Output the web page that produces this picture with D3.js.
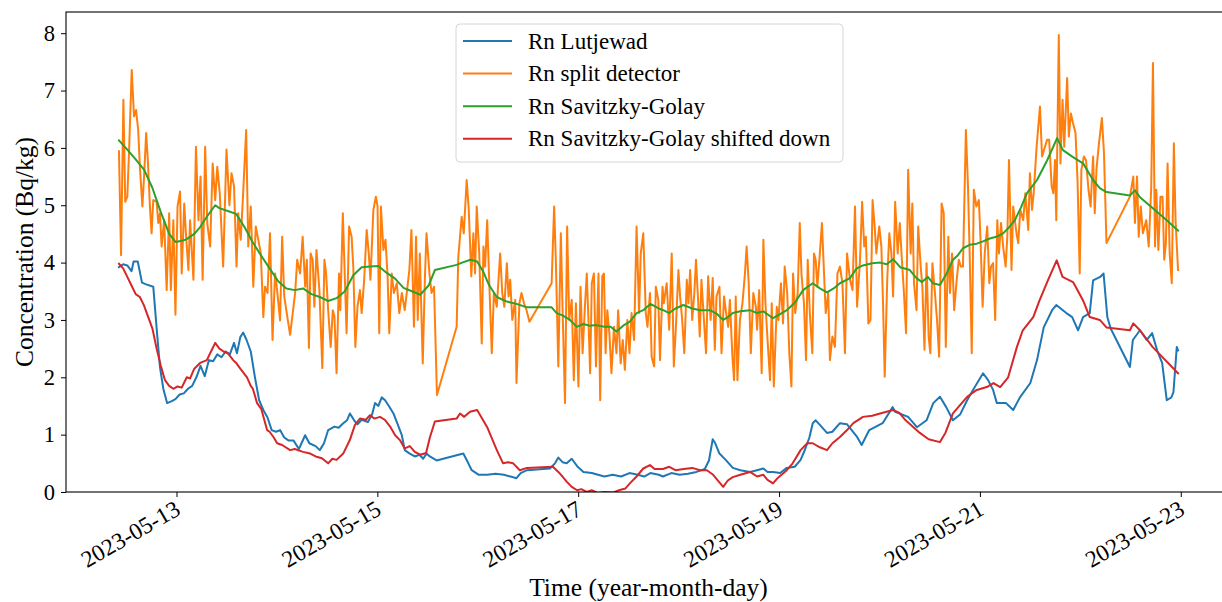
<!DOCTYPE html>
<html><head><meta charset="utf-8">
<script src="https://cdn.jsdelivr.net/npm/d3@7"></script>
<style>
html,body{margin:0;padding:0;background:#fff;}
svg{display:block;}
text{font-family:"Liberation Serif","Times New Roman",serif;fill:#000;}
</style></head><body>
<svg id="chart" width="1222" height="602"></svg>
<script>
// time origin: first sample, 2023-05-12 10:15 (UTC); data given as [hours since origin, value]
const startTime = Date.UTC(2023, 4, 12, 10, 15);

const seriesNames = ["Rn Lutjewad", "Rn split detector", "Rn Savitzky-Golay", "Rn Savitzky-Golay shifted down"];
const seriesColors = ["#1f77b4", "#ff7f0e", "#2ca02c", "#d62728"];
const xTickLabels = ["2023-05-13", "2023-05-15", "2023-05-17", "2023-05-19", "2023-05-21", "2023-05-23"];
const yTickValues = [0, 1, 2, 3, 4, 5, 6, 7, 8];

const lutjewad = [[0,3.92],[1,3.97],[2,3.95],[3,3.85],[3.5,4.02],[4.5,4.02],[5.5,3.65],[6.5,3.62],[8.2,3.58],[9.1,2.77],[9.8,2.18],[10.6,1.8],[11.5,1.55],[12.5,1.58],[13.5,1.62],[14.5,1.7],[15.5,1.72],[16.5,1.8],[17.5,1.85],[18.5,2.0],[19.5,2.2],[20.5,2.02],[21.5,2.3],[22.5,2.28],[23.5,2.4],[24.5,2.35],[25.5,2.45],[26.5,2.4],[27.5,2.6],[28.2,2.42],[29,2.7],[29.7,2.78],[30.5,2.65],[31.5,2.45],[32.5,2.0],[33.5,1.6],[34.5,1.43],[35.5,1.3],[36.5,1.08],[37.5,1.05],[38.5,1.08],[39.5,0.95],[40.5,0.9],[41.7,0.9],[43,0.75],[44.5,0.99],[45.5,0.85],[47,0.8],[48,0.73],[49,0.85],[50,1.08],[51.5,1.14],[52.5,1.12],[53.6,1.2],[54.5,1.25],[55.2,1.37],[56.2,1.25],[57,1.18],[58,1.26],[59.5,1.22],[60.5,1.35],[61.2,1.55],[62,1.5],[62.8,1.65],[63.6,1.6],[64.5,1.5],[65.6,1.37],[66.5,1.2],[67.6,0.99],[68.3,0.73],[69.5,0.67],[70.7,0.62],[71.8,0.65],[72.7,0.58],[73.5,0.67],[74.3,0.62],[75.9,0.55],[82.3,0.67],[83.5,0.5],[84.3,0.38],[86,0.3],[88,0.3],[90,0.32],[92,0.3],[94,0.26],[95,0.24],[96,0.33],[97.5,0.38],[103,0.41],[104.2,0.5],[105,0.6],[106,0.52],[107,0.5],[108.2,0.58],[109.5,0.45],[111,0.35],[113,0.33],[114.5,0.3],[116,0.27],[118,0.3],[120,0.27],[122,0.33],[124,0.3],[125.5,0.27],[127,0.33],[129,0.3],[130,0.27],[132,0.33],[134,0.3],[136,0.32],[138,0.35],[140,0.4],[141,0.55],[141.9,0.92],[142.5,0.85],[143.5,0.67],[145,0.56],[146.7,0.42],[148.5,0.38],[150.8,0.35],[152,0.37],[154,0.41],[155,0.35],[156.3,0.35],[158,0.33],[159.6,0.42],[161.5,0.44],[162.9,0.56],[164,0.75],[165,0.95],[165.8,1.2],[166.5,1.25],[167.5,1.17],[169.2,1.03],[170.5,1.05],[172.3,1.2],[174,1.18],[176.4,0.96],[177.5,0.82],[179.3,1.08],[182.5,1.2],[184.9,1.48],[185.5,1.4],[188.6,1.31],[190.7,1.13],[193,1.25],[194.6,1.55],[196.2,1.66],[197.7,1.48],[199.3,1.25],[201,1.35],[202.7,1.6],[204.1,1.78],[206.5,2.07],[207.7,1.95],[208.9,1.78],[209.8,1.55],[212,1.55],[213.7,1.43],[215.4,1.66],[217.8,1.9],[219.4,2.3],[221,2.87],[223,3.17],[224,3.26],[226.4,3.12],[227.8,3.05],[229.2,2.82],[230.4,3.05],[232,3.12],[232.8,3.69],[234.5,3.75],[235.3,3.81],[236.2,3.05],[237,2.85],[241.6,2.18],[242.3,2.65],[244,2.82],[245.6,2.65],[246.9,2.77],[248.1,2.47],[249.3,2.25],[250.4,1.6],[251.5,1.65],[252,1.74],[252.8,2.53],[253.1,2.47]];

const splitDetector = [[0,5.94],[0.5,4.13],[1.06,6.84],[1.5,5.06],[2,5.15],[2.4,5.91],[3.05,7.36],[3.6,6.55],[4.1,6.66],[4.6,6.31],[5,5.67],[5.6,4.98],[6,5.5],[6.5,6.26],[6.9,5.79],[7.4,4.98],[7.8,4.51],[8.2,5.09],[9,5.06],[9.4,4.69],[9.8,4.86],[10.2,4.28],[10.8,4.74],[11.4,3.52],[12,4.86],[12.4,3.52],[13,4.74],[13.5,3.09],[14,4.98],[14.6,5.24],[15,3.81],[15.6,5.03],[16,4.51],[16.6,3.87],[17,4.74],[17.8,3.7],[18.4,6.02],[19,4.74],[19.5,5.5],[20,3.7],[20.6,6.02],[21.1,4.69],[21.8,4.28],[22.4,5.73],[23,5.09],[23.5,5.67],[24.1,5.2],[24.9,3.93],[25.7,5.97],[26.4,5.0],[26.9,5.56],[27.5,5.33],[28.1,3.93],[28.5,4.86],[29.1,4.4],[29.6,5.09],[30.4,6.31],[30.9,4.28],[31.5,4.98],[32.1,3.58],[32.7,4.63],[33.3,4.4],[33.9,4.16],[34.5,3.05],[34.9,3.58],[35.5,3.47],[36.1,4.51],[36.7,2.65],[37.3,3.81],[37.8,3.52],[38.5,2.99],[39,4.45],[39.5,3.41],[40.1,3.12],[40.9,2.74],[41.5,3.1],[42.1,3.47],
[42.6,4.05],[43.3,3.81],[43.9,4.45],[44.5,3.58],[44.9,4.05],[45.4,2.51],[45.8,4.16],[46.3,4.05],[46.7,3.23],[47.2,4.22],[47.9,3.52],[48.6,2.16],[49.1,4.05],[49.5,3.81],[50.0,3.17],[50.6,2.53],[51.1,3.17],[51.5,3.06],[52.0,2.07],[52.6,3.81],[52.9,3.17],[53.5,4.86],[54.0,3.7],[54.4,2.77],[55.0,4.63],[55.6,4.45],[56.0,3.93],[56.5,2.53],[57.0,3.23],[57.6,3.52],[58.0,3.12],[58.6,3.7],[59.2,4.57],[59.7,4.16],[60.1,3.7],[60.8,4.92],[61.4,5.15],[61.8,4.98],[62.2,2.77],[62.6,4.98],[63.2,4.22],[63.7,4.4],[64.2,3.76],[64.6,2.77],[65.2,3.81],[65.7,3.47],[66.4,3.64],[67.0,3.12],[67.6,3.47],[68.3,3.17],[69.4,3.87],[69.9,4.57],[70.5,2.88],[71.0,4.45],[71.4,3.0],[71.9,4.16],[72.6,2.24],[73.1,3.7],[73.5,4.51],[74.2,3.81],[74.7,3.47],[75.3,3.58],[76.0,1.69],[80.7,2.88],[81.1,4.1],[81.9,4.8],[82.4,4.51],[83.1,5.44],[83.6,4.92],[84.2,3.76],
[84.7,4.51],[85.1,3.81],[85.5,4.98],[86.1,4.16],[86.7,2.59],[87.1,4.28],[87.5,3.93],[88.0,4.74],[88.5,3.64],[89.1,2.42],[89.6,3.47],[90.3,3.23],[91.1,4.16],[91.6,3.47],[92.1,3.23],[92.7,3.99],[93.1,3.41],[93.5,3.7],[94.0,3.0],[94.7,3.35],[95.0,1.9],[95.7,3.29],[96.2,3.47],[96.8,3.29],[97.4,3.17],[98.1,2.97],[103.4,3.64],[104.0,4.98],[104.4,4.05],[105.0,2.19],[105.6,4.51],[106.0,3.23],[106.6,1.55],[107.1,4.63],[107.6,3.0],[108.2,3.35],[108.7,1.95],[109.2,3.29],[109.8,1.84],[110.3,3.58],[110.8,2.42],[111.4,3.29],[111.8,3.81],[112.2,3.0],[112.6,2.07],[113.0,3.64],[113.5,3.81],[114.0,2.19],[114.6,3.81],[115.0,1.6],[115.5,3.76],[115.9,3.81],[116.3,2.42],[116.7,3.17],[117.2,2.77],[117.7,2.07],[118.3,2.88],[118.9,2.42],[119.3,3.17],[119.9,2.24],[120.4,2.65],[120.9,2.13],[121.5,3.0],[122.0,2.42],[122.5,3.12],[123.1,2.65],[123.7,4.63],[124.3,3.12],[124.7,4.16],[125.3,4.51],[125.9,3.12],[126.3,2.88],[126.9,3.47],[127.3,2.36],
[127.9,2.19],[128.3,3.58],[128.9,3.35],[129.3,2.3],[129.9,3.58],[130.2,3.29],[130.9,3.64],[131.5,2.83],[132.1,4.16],[132.6,2.19],[133.1,2.88],[133.7,3.87],[134.1,3.41],[134.6,3.0],[135.1,2.42],[135.7,3.7],[136.1,3.29],[136.5,3.87],[137.0,3.0],[137.5,3.47],[137.9,4.05],[138.4,3.35],[138.8,2.71],[139.2,3.7],[139.6,3.23],[140.3,2.42],[140.8,3.76],[141.4,3.0],[141.9,3.73],[142.4,2.48],[142.8,3.41],[143.5,3.58],[144.0,2.42],[144.6,3.41],[145.1,3.12],[145.6,2.88],[146.0,3.35],[146.6,2.36],[147.0,1.95],[147.4,3.41],[147.8,1.95],[148.4,3.0],[149.0,3.29],[149.6,3.81],[150.0,4.28],[150.5,3.64],[151.0,2.42],[151.6,3.47],[152.2,3.23],[152.5,2.83],[153.0,3.52],[153.6,2.07],[154.0,4.4],[154.5,3.29],[155.0,2.65],[155.6,1.95],[156.0,3.29],[156.5,1.84],[157.2,3.23],[157.6,3.0],[158.2,3.64],[158.7,2.94],[159.1,3.93],[159.7,3.47],[160.2,2.42],[160.7,1.84],[161.1,3.81],[161.6,3.12],[162.2,3.47],[162.7,4.69],[163.1,3.81],[163.7,3.29],[164.2,2.3],[164.6,4.05],[165.1,3.12],[165.7,2.42],[166.1,4.16],[166.5,4.05],[166.9,3.58],[167.5,4.16],[168.0,4.69],[168.5,3.81],[168.9,3.12],[169.5,3.47],[169.9,2.3],[170.5,2.71],[171.1,2.53],
[171.7,3.81],[172.3,3.93],[172.9,3.64],[173.5,2.42],[174.0,4.16],[174.7,3.7],[175.3,3.52],[175.9,4.98],[176.4,3.23],[177.1,4.05],[177.6,5.06],[178.1,4.28],[178.5,4.45],[179.1,2.94],[179.6,3.0],[180.1,5.09],[180.6,4.63],[181.0,4.16],[181.7,4.63],[182.2,4.28],[182.6,3.29],[183.0,2.01],[183.6,3.7],[184.1,4.51],[184.6,4.16],[185.0,3.41],[185.5,5.06],[186.1,4.16],[186.6,4.69],[187.1,4.05],[187.6,3.47],[188.1,2.77],[188.6,5.62],[189.2,4.16],[189.6,5.03],[190.0,3.64],[190.6,3.17],[191.0,4.63],[191.6,3.93],[192.0,3.58],[192.5,2.48],[193.0,3.99],[193.5,2.71],[193.9,2.42],[194.4,3.99],[195.0,3.47],[195.5,3.0],[196.0,2.36],[196.6,5.03],[197.1,4.86],[197.6,2.53],[198.2,4.45],[198.6,3.47],[199.1,4.16],[199.6,3.17],[200.2,3.7],[200.7,4.05],[201.2,3.93],[201.7,3.93],[202.4,6.31],[202.9,5.33],[203.3,4.16],[203.8,2.42],[204.3,5.27],[204.9,4.98],[205.5,5.09],[205.9,4.4],[206.4,3.23],[206.9,4.16],[207.5,4.63],[208.0,3.64],[208.4,3.93],[208.9,3.99],[209.4,3.0],[209.9,4.74],[210.3,4.16],[210.8,4.69],[211.3,4.28],[211.9,3.93],[212.3,4.45],[212.7,5.79],
[213.3,3.87],[213.7,4.98],[214.1,4.74],[214.5,4.51],[214.9,4.34],[215.4,4.92],[216.1,4.74],[216.6,5.21],[217.3,4.57],[217.7,5.56],[218.2,4.92],[218.6,5.21],[219.3,6.02],[220.1,6.72],[220.6,5.85],[221.3,6.02],[221.8,6.14],[222.3,6.14],[222.9,5.33],[223.3,5.21],[223.7,5.79],[224.0,4.74],[224.6,7.97],[225.0,5.73],[225.5,6.84],[225.9,6.02],[226.6,7.22],[227.0,6.2],[227.5,6.6],[228.0,6.43],[228.6,6.26],[229.1,5.38],[229.6,3.81],[230.0,5.62],[230.6,5.85],[231.1,5.79],[231.7,5.27],[232.2,4.98],[232.8,5.85],[233.2,4.86],[233.6,5.62],[234.2,6.08],[234.9,6.52],[235.4,5.91],[236.0,4.34],[241.6,5.15],[242.4,5.5],[242.8,4.69],[243.3,5.5],[243.7,4.45],[244.2,4.98],[244.7,4.51],[245.5,4.74],[246.1,4.28],[246.7,5.33],[247.1,7.48],[247.6,4.28],[247.9,5.27],[248.4,4.22],[248.9,5.15],[249.4,5.15],[249.8,4.05],[250.2,4.34],[250.6,5.73],[251.1,4.16],[251.6,3.64],[252.1,6.08],[252.5,4.74],[253.1,3.87]];

const savitzkyGolay = [[0,6.13],[2,5.97],[4,5.8],[6,5.62],[8,5.3],[9,5.09],[10,4.88],[12,4.5],[13.5,4.36],[15,4.38],[16,4.4],[18,4.5],[19.4,4.62],[21,4.8],[23,5.0],[24,4.95],[26,4.9],[28,4.85],[30,4.62],[32,4.35],[34,4.12],[36,3.9],[38,3.68],[40,3.55],[42,3.52],[44,3.55],[46,3.45],[48,3.4],[50,3.33],[52,3.38],[54,3.5],[56,3.78],[58,3.92],[60,3.93],[62,3.94],[64,3.82],[66,3.72],[68,3.56],[70,3.5],[72,3.44],[74,3.6],[75.5,3.87],[80.7,3.96],[82,4.0],[84,4.05],[85.6,4.02],[87,3.85],[88.5,3.6],[90.3,3.4],[92.7,3.32],[95,3.28],[97.5,3.22],[103.4,3.22],[104.6,3.12],[106,3.08],[107.8,3.0],[109.4,2.88],[111,2.93],[112.5,2.9],[114,2.91],[116,2.88],[117.5,2.88],[118.9,2.8],[120.5,2.9],[122.1,2.97],[123.7,3.12],[125.3,3.17],[127,3.28],[129,3.2],[130.1,3.17],[131.5,3.12],[133,3.2],[134.9,3.26],[137,3.2],[138.9,3.17],[141.2,3.17],[143,3.1],[144.4,3.0],[145.5,3.05],[146.7,3.12],[148.5,3.15],[150.8,3.17],[152.5,3.12],[154,3.15],[156.3,3.03],[158,3.1],[159.6,3.17],[161.5,3.3],[163.5,3.52],[165.8,3.64],[167.5,3.55],[169.2,3.48],[170.8,3.55],[172.3,3.64],[174.7,3.73],[176.3,3.9],[177.8,3.95],[180,3.99],[181.9,4.0],[183.5,3.97],[185,4.06],[186.7,3.92],[189,3.87],[190.6,3.73],[191.9,3.66],[193.3,3.75],[194.5,3.64],[196.2,3.61],[197.8,3.81],[199.3,4.05],[200.5,4.13],[201.7,4.25],[203.3,4.31],[205,4.33],[206.5,4.37],[208.1,4.42],[209.7,4.45],[211.3,4.51],[212.9,4.63],[214.1,4.74],[215.5,4.95],[217,5.21],[219.4,5.44],[221.8,5.78],[224.2,6.17],[225.6,5.96],[228,5.84],[230.4,5.73],[232.8,5.44],[234.4,5.3],[236,5.23],[241.6,5.17],[242.8,5.26],[244,5.14],[247,4.95],[250.4,4.74],[253.1,4.56]];

const savitzkyGolayShifted = [[0,3.98],[1,3.9],[2,3.75],[3,3.6],[4,3.45],[5,3.4],[6,3.25],[7,3.05],[8,2.85],[9,2.5],[10,2.2],[11,1.95],[12,1.85],[13,1.8],[14,1.84],[15,1.82],[16.2,2.0],[17,1.98],[18,2.15],[19.4,2.25],[20,2.27],[21,2.3],[22,2.45],[23,2.6],[24,2.5],[25,2.45],[26,2.42],[27.3,2.3],[28,2.25],[29,2.15],[30.6,2.0],[31.5,1.85],[32,1.8],[33,1.55],[34,1.45],[35.4,1.08],[36,1.05],[37,0.95],[37.8,0.85],[39,0.82],[40.9,0.73],[42,0.75],[44,0.7],[45.7,0.67],[47,0.62],[48.5,0.59],[50,0.5],[51,0.58],[52,0.56],[53.6,0.67],[55.2,0.91],[56.4,1.17],[57.6,1.28],[59,1.26],[60,1.34],[61,1.28],[62.4,1.31],[63.5,1.26],[64.8,1.14],[66,0.99],[67.2,0.9],[68.3,0.76],[69.5,0.8],[70.7,0.7],[72,0.65],[73.4,0.68],[74.3,0.95],[75.5,1.23],[80.7,1.28],[81.5,1.37],[82.5,1.31],[83.9,1.4],[85.6,1.43],[88,1.13],[90.3,0.73],[91.8,0.5],[93,0.52],[94.2,0.5],[95.8,0.38],[97.5,0.42],[103.7,0.44],[105,0.35],[106,0.27],[107,0.18],[108.2,0.09],[109.5,0.03],[110.5,0.05],[111.8,0.0],[113,0.03],[114.5,-0.02],[116,0.0],[118,-0.01],[119.5,0.03],[121,0.06],[122.1,0.15],[123.7,0.27],[125.3,0.41],[126.9,0.47],[128,0.4],[130,0.4],[131.5,0.44],[133,0.38],[135,0.4],[137,0.42],[138.9,0.38],[140.5,0.38],[142,0.3],[144.4,0.09],[145.5,0.2],[146.7,0.26],[148.5,0.3],[150.8,0.35],[152.5,0.27],[154,0.3],[155,0.21],[156.3,0.15],[157.5,0.25],[159.6,0.38],[161,0.5],[162.9,0.73],[164.5,0.85],[165.8,0.85],[167.5,0.78],[169.2,0.73],[170.5,0.85],[172.3,0.96],[174,1.08],[175.5,1.2],[177.8,1.31],[180,1.33],[181.9,1.37],[185,1.43],[186.5,1.38],[188,1.25],[191.4,1.03],[193.5,0.92],[196.2,0.87],[197.5,1.03],[199.3,1.37],[202.7,1.66],[205,1.78],[207.4,1.83],[209,1.9],[210.6,1.83],[212.5,2.0],[214.6,2.53],[216,2.82],[218.5,3.05],[220,3.34],[222,3.69],[224.1,4.04],[225.5,3.75],[228,3.66],[228.7,3.57],[230.4,3.34],[232,3.05],[234.4,3.0],[236,2.87],[241.6,2.82],[242.4,2.94],[244,2.82],[247,2.53],[253.1,2.07]];

const seriesData = [lutjewad, splitDetector, savitzkyGolay, savitzkyGolayShifted];

const toDate = h => new Date(startTime + h * 3600e3);
const parseDay = d3.utcParse("%Y-%m-%d");

const plot = {left: 66, right: 1231, top: 12, bottom: 492};
const svg = d3.select("#chart");

const allPts = seriesData.flat();
const hExt = d3.extent(allPts, d => d[0]);
const vExt = d3.extent(allPts, d => d[1]);
const hPad = (hExt[1] - hExt[0]) * 0.05;
const x = d3.scaleUtc()
  .domain([toDate(hExt[0] - hPad), toDate(hExt[1] + hPad)])
  .range([plot.left, plot.right]);
const y = d3.scaleLinear()
  .domain([0, vExt[1] + (vExt[1] - vExt[0]) * 0.05])
  .range([plot.bottom, plot.top]);

svg.append("defs").append("clipPath").attr("id", "clip")
  .append("rect").attr("x", plot.left).attr("y", plot.top)
  .attr("width", plot.right - plot.left).attr("height", plot.bottom - plot.top);

const line = d3.line().x(d => x(toDate(d[0]))).y(d => y(d[1]));
const gLines = svg.append("g").attr("clip-path", "url(#clip)");
seriesData.forEach((data, i) => {
  gLines.append("path").datum(data)
    .attr("d", line).attr("fill", "none")
    .attr("stroke", seriesColors[i]).attr("stroke-width", 2)
    .attr("stroke-linejoin", "round").attr("stroke-linecap", "square");
});

// y axis
const yAxis = svg.append("g").attr("transform", `translate(${plot.left},0)`)
  .call(d3.axisLeft(y).tickValues(yTickValues).tickSize(5).tickPadding(6).tickFormat(d3.format("d")));
yAxis.select(".domain").remove();
yAxis.selectAll("text").attr("font-size", 22.5).attr("font-family", '"Liberation Serif", serif');
yAxis.selectAll("line").attr("stroke", "#000");

// x axis
const xTicks = xTickLabels.map(parseDay);
const xAxis = svg.append("g").attr("transform", `translate(0,${plot.bottom})`)
  .call(d3.axisBottom(x).tickValues(xTicks).tickSize(5).tickFormat(""));
xAxis.select(".domain").remove();
xAxis.selectAll("line").attr("stroke", "#000");
svg.append("g").selectAll("text").data(xTickLabels).join("text")
  .attr("transform", d => `translate(${x(parseDay(d)) - 3},${plot.bottom + 7}) rotate(-30)`)
  .attr("text-anchor", "end")
  .attr("dominant-baseline", "hanging")
  .attr("font-size", 23.5)
  .text(d => d);

// spines
svg.append("rect").attr("x", plot.left).attr("y", plot.top)
  .attr("width", plot.right - plot.left).attr("height", plot.bottom - plot.top)
  .attr("fill", "none").attr("stroke", "#000").attr("stroke-width", 1.1);

// axis labels
svg.append("text").attr("x", (plot.left + plot.right) / 2).attr("y", 596)
  .attr("text-anchor", "middle").attr("font-size", 25.5).text("Time (year-month-day)");
svg.append("text").attr("transform", `translate(33,${(plot.top + plot.bottom) / 2}) rotate(-90)`)
  .attr("text-anchor", "middle").attr("font-size", 25.5).text("Concentration (Bq/kg)");

// legend
const leg = svg.append("g");
leg.append("rect").attr("x", 456).attr("y", 24).attr("width", 387).attr("height", 138)
  .attr("rx", 4).attr("fill", "#fff").attr("fill-opacity", 0.85)
  .attr("stroke", "#d6d6d6").attr("stroke-width", 1);
seriesNames.forEach((name, i) => {
  const yy = 41 + i * 32.6;
  leg.append("line").attr("x1", 463).attr("x2", 512).attr("y1", yy).attr("y2", yy)
    .attr("stroke", seriesColors[i]).attr("stroke-width", 2);
  leg.append("text").attr("x", 528).attr("y", yy).attr("dy", "0.33em")
    .attr("font-size", 23).text(name);
});
</script>
</body></html>
